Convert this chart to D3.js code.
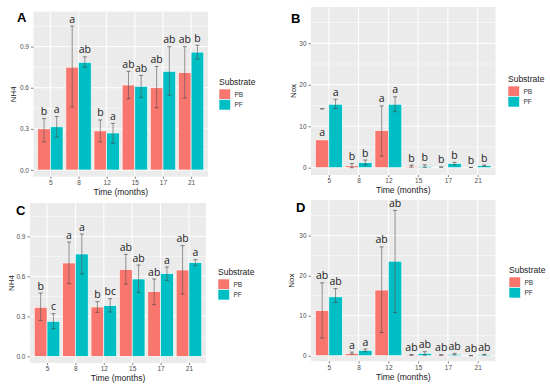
<!DOCTYPE html>
<html><head><meta charset="utf-8">
<script src="https://cdn.jsdelivr.net/npm/d3@7"></script>
<style>html,body{margin:0;padding:0;background:#fff;}</style>
</head><body>
<svg id="c" width="550" height="386"></svg>
<script>
const categories = ["5","8","12","15","17","21"];
const groups = ["PB","PF"];
const colors = ["#F8766D","#00BFC4"];

// Panel A : NH4
const aPB = [0.30, 0.75, 0.285, 0.62, 0.60, 0.71];
const aPF = [0.315, 0.785, 0.27, 0.61, 0.72, 0.86];
const aPBlo = [0.205, 0.46, 0.205, 0.52, 0.455, 0.525];
const aPBhi = [0.375, 1.05, 0.365, 0.72, 0.755, 0.90];
const aPFlo = [0.24, 0.75, 0.195, 0.53, 0.545, 0.81];
const aPFhi = [0.39, 0.825, 0.34, 0.69, 0.90, 0.91];
const aPBlet = ["b","a","b","ab","ab","ab"];
const aPFlet = ["a","ab","a","ab","ab","b"];

// Panel B : Nox
const bPB = [6.7, 0.45, 8.95, 0.25, 0.15, 0.05];
const bPF = [15.3, 1.2, 15.3, 0.3, 1.0, 0.5];
const bPBlo = [14.2, 0.0, 2.8, 0.15, 0.1, 0.05];
const bPBhi = [14.2, 1.0, 14.9, 0.6, 0.2, 0.05];
const bPFlo = [14.3, 0.65, 13.5, 0.1, 0.7, 0.35];
const bPFhi = [16.5, 1.85, 17.1, 0.7, 1.3, 0.65];
const bPBlet = ["a","b","a","b","b","b"];
const bPFlet = ["a","b","a","b","b","b"];

// Panel C : NH4
const cPB = [0.3675, 0.70, 0.37, 0.65, 0.485, 0.6475];
const cPF = [0.2625, 0.7675, 0.38, 0.58, 0.62, 0.7025];
const cPBlo = [0.27, 0.545, 0.33, 0.5425, 0.3875, 0.4675];
const cPBhi = [0.475, 0.8575, 0.41, 0.765, 0.58, 0.83];
const cPFlo = [0.2075, 0.6175, 0.3325, 0.48, 0.57, 0.68];
const cPFhi = [0.32, 0.9175, 0.4325, 0.685, 0.67, 0.725];
const cPBlet = ["b","a","b","ab","ab","ab"];
const cPFlet = ["c","a","bc","ab","a","a"];

// Panel D : Nox
const dPB = [11.25, 0.5, 16.4, 0.17, 0.17, 0.03];
const dPF = [14.7, 1.33, 23.6, 0.58, 0.33, 0.25];
const dPBlo = [4.4, 0.4, 5.8, 0.1, 0.1, 0.0];
const dPBhi = [18.2, 0.9, 27.2, 0.3, 0.25, 0.05];
const dPFlo = [13.3, 1.0, 10.8, 0.17, 0.2, 0.15];
const dPFhi = [16.75, 1.67, 36.3, 1.0, 0.58, 0.35];
const dPBlet = ["ab","a","ab","ab","ab","ab"];
const dPFlet = ["ab","a","ab","ab","ab","ab"];

const nh4Ticks = [0, 0.3, 0.6, 0.9];
const noxTicks = [0, 10, 20, 30];

const svg = d3.select("#c");
svg.append("rect").attr("width",550).attr("height",386).attr("fill","#fff");
const FONT = "'Liberation Sans', Arial, sans-serif";

function drawPanel(cfg) {
  const g = svg.append("g");
  const x = d3.scalePoint().domain(categories).range([cfg.x0, cfg.x1]).padding(0.6);
  const step = x.step();
  const xs = d3.scaleBand().domain(groups).range([-0.45*step, 0.45*step]);
  const y = d3.scaleLinear().domain(cfg.domain).range([cfg.y1, cfg.y0]);

  g.append("rect").attr("x",cfg.x0).attr("y",cfg.y0)
    .attr("width",cfg.x1-cfg.x0).attr("height",cfg.y1-cfg.y0).attr("fill","#EBEBEB");
  const minors = [];
  for (let i=0;i<cfg.ticks.length;i++){ minors.push(cfg.ticks[i] + (cfg.ticks[1]-cfg.ticks[0])/2); }
  g.selectAll(".mn").data(minors.filter(v=>y(v)>cfg.y0)).enter().append("line")
    .attr("x1",cfg.x0).attr("x2",cfg.x1).attr("y1",d=>y(d)).attr("y2",d=>y(d))
    .attr("stroke","#fff").attr("stroke-width",0.5);
  g.selectAll(".mj").data(cfg.ticks).enter().append("line")
    .attr("x1",cfg.x0).attr("x2",cfg.x1).attr("y1",d=>y(d)).attr("y2",d=>y(d))
    .attr("stroke","#fff").attr("stroke-width",1);
  g.selectAll(".vj").data(categories).enter().append("line")
    .attr("x1",d=>x(d)).attr("x2",d=>x(d)).attr("y1",cfg.y0).attr("y2",cfg.y1)
    .attr("stroke","#fff").attr("stroke-width",1);

  const series = [
    {grp:"PB", v:cfg.PB, lo:cfg.PBlo, hi:cfg.PBhi, let:cfg.PBlet, col:colors[0]},
    {grp:"PF", v:cfg.PF, lo:cfg.PFlo, hi:cfg.PFhi, let:cfg.PFlet, col:colors[1]}
  ];
  const bw = xs.bandwidth();
  series.forEach(s => {
    categories.forEach((c,i) => {
      const bx = x(c) + xs(s.grp);
      g.append("rect").attr("x",bx).attr("y",y(s.v[i]))
        .attr("width",bw).attr("height",Math.max(0,y(0)-y(s.v[i])))
        .attr("fill",s.col).attr("stroke","#fff").attr("stroke-width",0.6);
    });
  });
  series.forEach(s => {
    categories.forEach((c,i) => {
      const cx = x(c) + xs(s.grp) + bw/2;
      const cw = 2;
      if (s.hi[i] > s.lo[i]) {
        g.append("line").attr("x1",cx).attr("x2",cx).attr("y1",y(s.lo[i])).attr("y2",y(s.hi[i]))
          .attr("stroke","#555").attr("stroke-opacity",0.75).attr("stroke-width",0.8);
      }
      [s.lo[i], s.hi[i]].forEach(v => {
        g.append("line").attr("x1",cx-cw).attr("x2",cx+cw).attr("y1",y(v)).attr("y2",y(v))
          .attr("stroke","#444").attr("stroke-opacity",0.8).attr("stroke-width",0.8);
      });
      const top = s.hi[i] > s.lo[i] ? Math.max(s.hi[i], s.v[i]) : s.v[i];
      g.append("text").attr("x",cx).attr("y",y(top)-3.5)
        .attr("text-anchor","middle").attr("font-family","'Open Sans', sans-serif")
        .attr("font-size",10.5).attr("fill","#222").text(s.let[i]);
    });
  });

  const ya = g.append("g").attr("transform",`translate(${cfg.x0},0)`)
    .call(d3.axisLeft(y).tickValues(cfg.ticks).tickSize(2.5).tickPadding(2).tickFormat(cfg.fmt));
  const xa = g.append("g").attr("transform",`translate(0,${cfg.y1})`)
    .call(d3.axisBottom(x).tickSize(2.2).tickPadding(1.5));
  [ya, xa].forEach(a => {
    a.select(".domain").remove();
    a.selectAll(".tick line").attr("stroke","#333").attr("stroke-width",0.6);
    a.selectAll(".tick text").attr("fill","#4D4D4D").attr("font-size",6.5).attr("font-family",FONT);
  });

  g.append("text").attr("x",(cfg.x0+cfg.x1)/2).attr("y",cfg.xtY)
    .attr("text-anchor","middle").attr("font-family",FONT).attr("font-size",8.5).attr("fill","#1a1a1a")
    .text("Time (months)");
  g.append("text").attr("transform",`translate(${cfg.ytX},${(cfg.y0+cfg.y1)/2}) rotate(-90)`)
    .attr("text-anchor","middle").attr("font-family",FONT).attr("font-size",8).attr("fill","#1a1a1a")
    .text(cfg.ytitle);
  g.append("text").attr("x",cfg.tagX).attr("y",cfg.tagY).attr("font-family",FONT)
    .attr("font-weight","bold").attr("font-size",13).attr("fill","#000").text(cfg.tag);

  const lg = g.append("g").attr("transform",`translate(${cfg.lgX},${cfg.lgY})`);
  lg.append("text").attr("x",0).attr("y",0).attr("font-family",FONT).attr("font-size",8.5)
    .attr("fill","#1a1a1a").text("Substrate");
  groups.forEach((gr,i) => {
    lg.append("rect").attr("x",0).attr("y",4+i*10.5).attr("width",11.5).attr("height",10.5)
      .attr("fill",colors[i]).attr("stroke","#fff").attr("stroke-width",0.6);
    lg.append("text").attr("x",15.5).attr("y",4+i*10.5+7.5).attr("font-family",FONT)
      .attr("font-size",6.5).attr("fill","#333").text(gr);
  });
}

drawPanel({x0:33.5,x1:208,y0:11.7,y1:176.7,domain:[-0.049,1.155],ticks:nh4Ticks,fmt:d3.format(".1f"),
  PB:aPB,PF:aPF,PBlo:aPBlo,PBhi:aPBhi,PFlo:aPFlo,PFhi:aPFhi,PBlet:aPBlet,PFlet:aPFlet,
  ytitle:"NH4",ytX:16,xtY:195,tag:"A",tagX:17,tagY:22,lgX:219,lgY:85});
drawPanel({x0:311,x1:495.5,y0:7,y1:175,domain:[-1.76,38.75],ticks:noxTicks,fmt:d3.format("d"),
  PB:bPB,PF:bPF,PBlo:bPBlo,PBhi:bPBhi,PFlo:bPFlo,PFhi:bPFhi,PBlet:bPBlet,PFlet:bPFlet,
  ytitle:"Nox",ytX:296,xtY:192.5,tag:"B",tagX:291,tagY:23,lgX:508,lgY:82});
drawPanel({x0:30,x1:206,y0:203,y1:363,domain:[-0.05,1.15],ticks:nh4Ticks,fmt:d3.format(".1f"),
  PB:cPB,PF:cPF,PBlo:cPBlo,PBhi:cPBhi,PFlo:cPFlo,PFhi:cPFhi,PBlet:cPBlet,PFlet:cPFlet,
  ytitle:"NH4",ytX:14,xtY:381,tag:"C",tagX:16,tagY:215,lgX:218,lgY:275});
drawPanel({x0:311,x1:495.5,y0:200,y1:361.3,domain:[-1.4,38.9],ticks:noxTicks,fmt:d3.format("d"),
  PB:dPB,PF:dPF,PBlo:dPBlo,PBhi:dPBhi,PFlo:dPFlo,PFhi:dPFhi,PBlet:dPBlet,PFlet:dPFlet,
  ytitle:"Nox",ytX:294,xtY:380,tag:"D",tagX:296,tagY:212,lgX:509,lgY:273});
</script>
</body></html>
